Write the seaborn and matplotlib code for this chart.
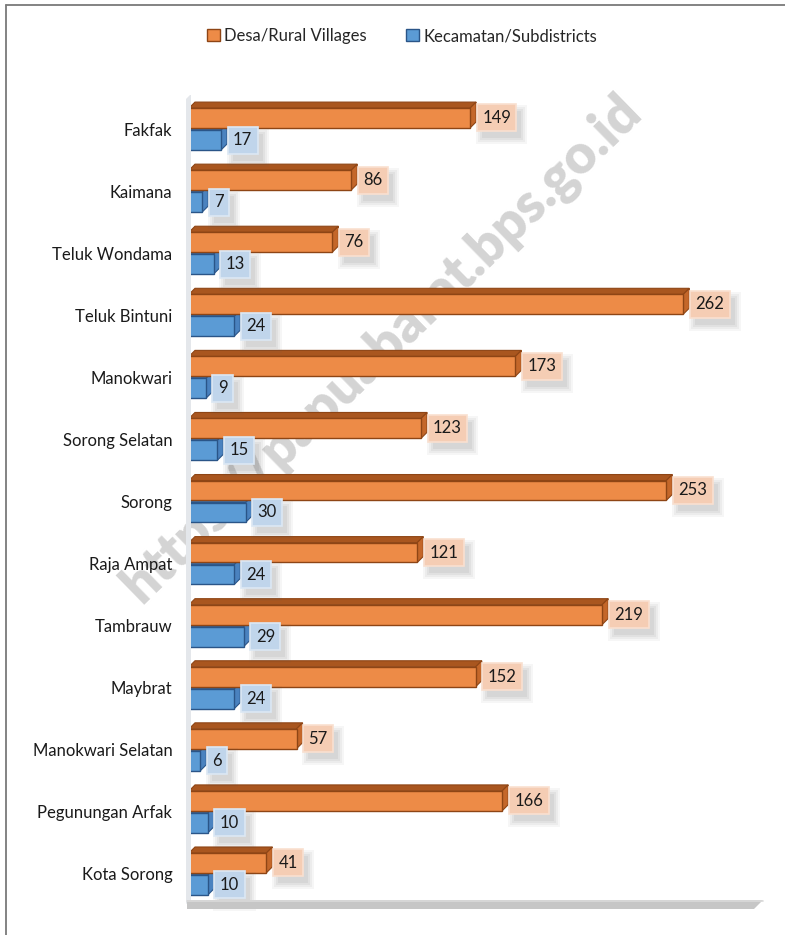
import matplotlib
matplotlib.use("Agg")
import matplotlib.pyplot as plt
from matplotlib.patches import Polygon, Patch, Rectangle
from matplotlib.lines import Line2D
from matplotlib.transforms import IdentityTransform
import numpy as np
import pandas as pd
import seaborn as sns

# Number of villages and subdistricts per regency/city
regencies = ["Fakfak", "Kaimana", "Teluk Wondama", "Teluk Bintuni", "Manokwari",
             "Sorong Selatan", "Sorong", "Raja Ampat", "Tambrauw", "Maybrat",
             "Manokwari Selatan", "Pegunungan Arfak", "Kota Sorong"]
villages = [149, 86, 76, 262, 173, 123, 253, 121, 219, 152, 57, 166, 41]
subdistricts = [17, 7, 13, 24, 9, 15, 30, 24, 29, 24, 6, 10, 10]
series_names = ["Desa/Rural Villages", "Kecamatan/Subdistricts"]

W, H = 785, 935

sns.set_theme(style="white")
plt.rcParams["font.family"] = ["Lato", "DejaVu Sans"]


def px(x, y):
    """pixel position -> figure fraction"""
    return (x / W, 1 - y / H)


styles = {
    series_names[0]: dict(front="#ED8B47", top="#A9561F", side="#C4672A",
                          edge="#8E4515", box="#F5CDB4", boxedge="#F9E0D0"),
    series_names[1]: dict(front="#5B9BD5", top="#3A6CA3", side="#4A82BF",
                          edge="#2A5588", box="#C0D5EB", boxedge="#DCE8F4"),
}

fig = plt.figure(figsize=(W / 100, H / 100), dpi=100)
fig.patch.set_facecolor("white")
ax = fig.add_axes([189 / W, 1 - 900 / H, (755 - 189) / W, (900 - 95) / H])
ax.patch.set_alpha(0)

df = pd.DataFrame({
    "region": regencies * 2,
    "count": villages + subdistricts,
    "series": [series_names[0]] * len(regencies) + [series_names[1]] * len(regencies),
})

sns.barplot(data=df, y="region", x="count", hue="series", order=regencies,
            hue_order=series_names,
            palette={k: v["front"] for k, v in styles.items()},
            width=0.71, gap=0.1, saturation=1, orient="h", ax=ax,
            legend=False, errorbar=None)

ax.set_xlim(0, 300)
ax.set_ylim(12.42, -0.548)
ax.set_xlabel("")
ax.set_ylabel("")
ax.set_xticks([])
for s in ax.spines.values():
    s.set_visible(False)
ax.tick_params(axis="y", length=0, pad=12, labelsize=12, labelcolor="#1a1a1a")
ax.yaxis.set_zorder(2)

# back wall and floor of the 3-D plot area
fig.add_artist(Polygon([px(186, 99), px(190, 95), px(191, 95), px(191, 900), px(186, 904)],
                       closed=True, transform=fig.transFigure,
                       facecolor="#E4E7EB", edgecolor="none", zorder=0.5))
fig.add_artist(Polygon([px(187, 900), px(763, 900), px(754, 909), px(187, 909)],
                       closed=True, transform=fig.transFigure,
                       facecolor="#C6C6C6", edgecolor="none", zorder=0.5))
fig.add_artist(Line2D([187 / W, 763 / W], [1 - 900.5 / H, 1 - 900.5 / H],
                      transform=fig.transFigure, color="#DADADA", lw=1.2, zorder=0.6))

# frame lines
fig.add_artist(Line2D([5.5 / W, 5.5 / W], [0, 1 - 4.5 / H], transform=fig.transFigure,
                      color="#7A7A7A", lw=1.3))
fig.add_artist(Line2D([5.5 / W, 1], [1 - 4.5 / H, 1 - 4.5 / H], transform=fig.transFigure,
                      color="#7A7A7A", lw=1.3))

# watermark
ax.text(0.487, 0.627, "https://papuabarat.bps.go.id", transform=fig.transFigure,
        rotation=44.3, rotation_mode="anchor", ha="center", va="center",
        fontsize=39, fontweight="heavy", color="#D4D4D4", zorder=1, clip_on=False)

# give every bar a 3-D top and side face, plus a value box
DX, DY = 6, 6
inv = ax.transData.inverted()
value_labels = []
for zbase, (name, container, values) in zip(
        [4, 3], [(series_names[0], ax.containers[0], villages),
                 (series_names[1], ax.containers[1], subdistricts)]):
    st = styles[name]
    for bar, v in zip(container, values):
        bar.set_edgecolor(st["edge"])
        bar.set_linewidth(1.0)
        bar.set_zorder(zbase + 0.2)
        x0, y0 = bar.get_x(), bar.get_y()
        w, h = bar.get_width(), bar.get_height()
        (xl, yt), (xr, yb) = ax.transData.transform([(x0, y0), (x0 + w, y0 + h)])
        top = inv.transform([(xl, yt), (xr, yt), (xr + DX, yt + DY), (xl + DX, yt + DY)])
        side = inv.transform([(xr, yb), (xr, yt), (xr + DX, yt + DY), (xr + DX, yb + DY)])
        ax.add_patch(Polygon(top, closed=True, facecolor=st["top"], edgecolor=st["edge"],
                             lw=0.8, zorder=zbase + 0.1))
        ax.add_patch(Polygon(side, closed=True, facecolor=st["side"], edgecolor=st["edge"],
                             lw=0.8, zorder=zbase + 0.1))

        yc = y0 + h / 2
        lab = ax.annotate(str(v), xy=(x0 + w, yc), xytext=(12, 0),
                          textcoords="offset pixels", ha="left", va="center",
                          fontsize=12, color="#1a1a1a", zorder=6,
                          bbox=dict(boxstyle="square,pad=0.33", facecolor=st["box"],
                                    edgecolor=st["boxedge"], linewidth=1.2))
        value_labels.append(lab)

# soft drop shadow under each value box
fig.canvas.draw()
for lab in value_labels:
    bb = lab.get_bbox_patch().get_window_extent()
    for grow, a in [(6, 0.05), (4, 0.06), (2, 0.07), (0, 0.08)]:
        ax.add_patch(Rectangle((bb.x0 + 5 - grow, bb.y0 - 7 - grow),
                               bb.width + 2 * grow, bb.height + 2 * grow,
                               transform=IdentityTransform(), facecolor="#5A5A5A",
                               edgecolor="none", alpha=a, zorder=5, clip_on=False))

# legend
handles = [Patch(facecolor=styles[n]["front"], edgecolor=styles[n]["edge"], label=n)
           for n in series_names]
fig.legend(handles=handles, loc="center", bbox_to_anchor=(0.512, 1 - 36 / H), ncol=2,
           frameon=False, fontsize=12, handlelength=0.75, handleheight=0.75,
           handletextpad=0.25, columnspacing=2.4)

fig.savefig("out.png", dpi=100, facecolor="white")
